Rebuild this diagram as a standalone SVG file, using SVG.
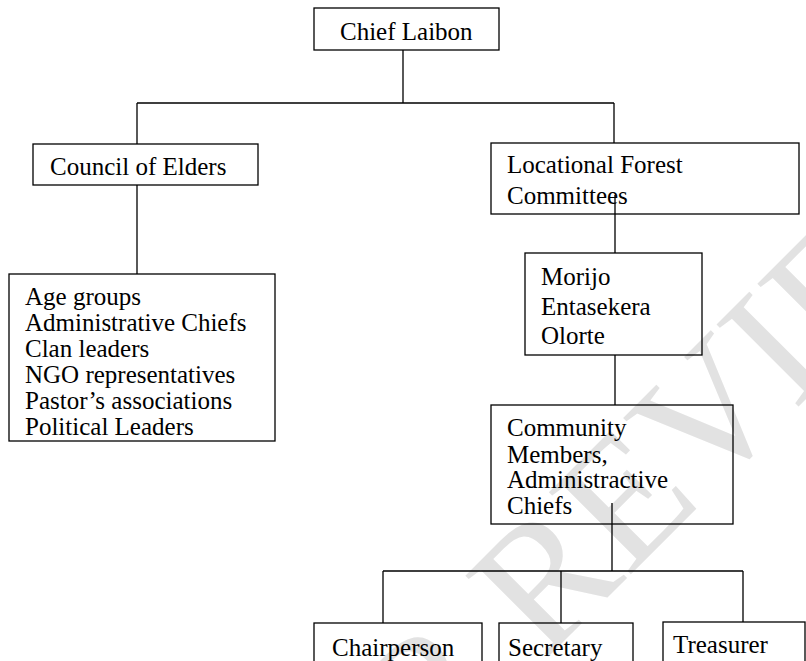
<svg xmlns="http://www.w3.org/2000/svg" width="806" height="661" viewBox="0 0 806 661">
<style>
.box{fill:#fff;stroke:#000;stroke-width:1.3}
.ln{fill:none;stroke:#000;stroke-width:1.3}
text{font-family:"Liberation Serif","Times New Roman",serif;font-size:25px;fill:#000}
.wm{font-size:177px;fill:#e2e2e2}
</style>
<rect width="806" height="661" fill="#fff"/>
<text class="wm" transform="translate(269 936) rotate(-45)">FOR REVIEW</text>
<g id="chief-laibon"><rect class="box" x="314" y="8" width="185" height="42" fill-opacity="0"/><text x="340" y="40">Chief Laibon</text></g>
<g id="council-of-elders"><rect class="box" x="33" y="144" width="225" height="41" fill-opacity="0"/><text x="50" y="175">Council of Elders</text></g>
<g id="council-members"><rect class="box" x="9" y="274" width="266" height="167" fill-opacity="0"/>
<text x="25" y="305">Age groups</text><text x="25" y="331">Administrative Chiefs</text><text x="25" y="357">Clan leaders</text><text x="25" y="383">NGO representatives</text><text x="25" y="409">Pastor’s associations</text><text x="25" y="435">Political Leaders</text></g>
<g id="locational-forest-committees"><rect class="box" x="491" y="143" width="308" height="71" fill-opacity="0"/><text x="507" y="173">Locational Forest</text><text x="507" y="204">Committees</text></g>
<g id="morijo"><rect class="box" x="525" y="253" width="177" height="102" fill-opacity="0"/><text x="541" y="285">Morijo</text><text x="541" y="315">Entasekera</text><text x="541" y="344">Olorte</text></g>
<g id="community-members"><rect class="box" x="491" y="405" width="242" height="119" fill-opacity="0"/><text x="507" y="436">Community</text><text x="507" y="463">Members,</text><text x="507" y="488">Administractive</text><text x="507" y="514">Chiefs</text></g>
<g id="chairperson"><rect class="box" x="314" y="623" width="168" height="60" fill-opacity="0"/><text x="332" y="656">Chairperson</text></g>
<g id="secretary"><rect class="box" x="499" y="623" width="134" height="60" fill-opacity="0"/><text x="508" y="656">Secretary</text></g>
<g id="treasurer"><rect class="box" x="663" y="622" width="142" height="60" fill-opacity="0"/><text x="673" y="653">Treasurer</text></g>
<g id="connectors">
<path class="ln" d="M403 50V103M137 103H614M137 103V144M614 103V143M137 185V274"/>
<path class="ln" d="M615 195V253M615 355V405"/>
<path class="ln" d="M612 503V571M383 571H743M383 571V623M561 571V623M743 571V622"/>
</g>
</svg>
